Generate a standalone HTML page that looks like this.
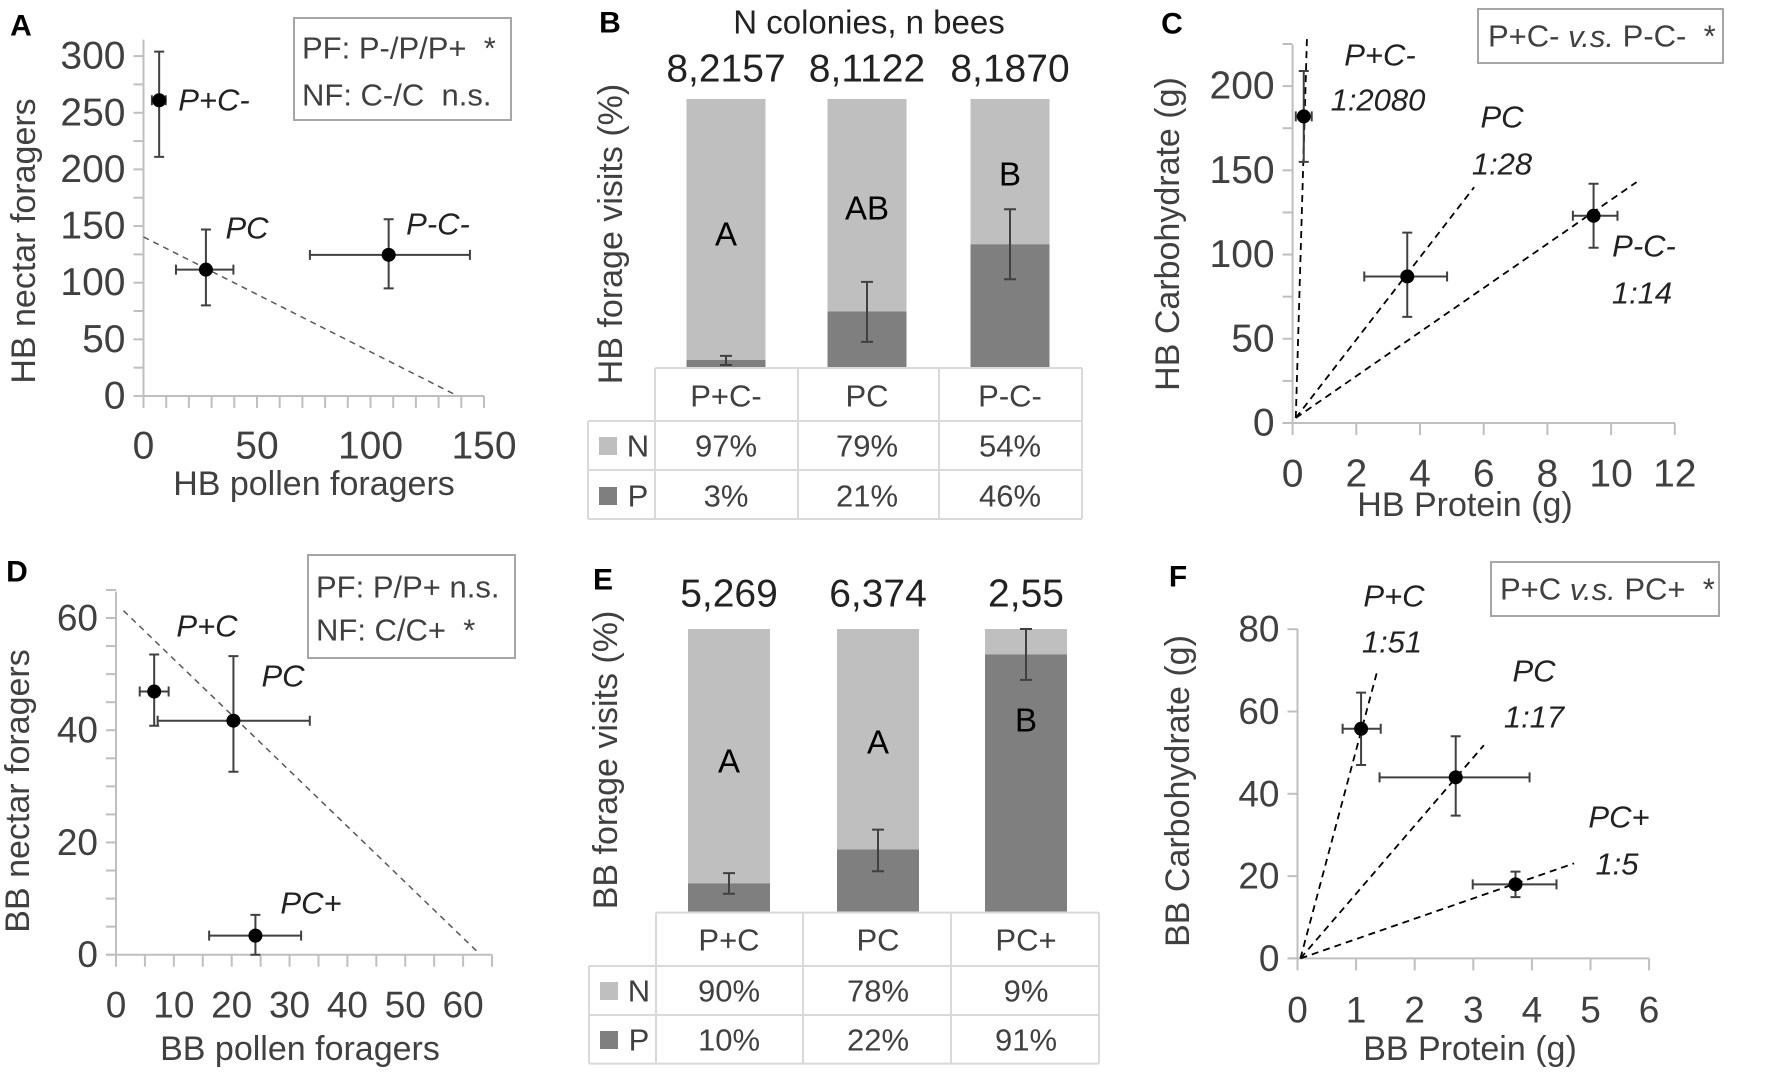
<!DOCTYPE html>
<html><head><meta charset="utf-8"><style>
body{margin:0;background:#fff}
svg{display:block;font-family:"Liberation Sans",sans-serif}
</style></head><body>
<svg id="fig" width="1772" height="1072" viewBox="0 0 1772 1072" xmlns="http://www.w3.org/2000/svg"></svg>
<script>
// ---- Panel A data (HB foragers) ----
const aNames=["P+C-","PC","P-C-"];
const aX=[6.9,27.5,108];
const aY=[261,111.5,124.6];
const aXlo=[3.7,14.3,73.3], aXhi=[9.8,39.6,143.8];
const aYlo=[211,80,95], aYhi=[304,147,156];
const aLine=[[0,140.4],[136.5,2]];
const aXTicks=[0,50,100,150], aYTicks=[0,50,100,150,200,250,300];
// ---- Panel C data (HB protein/carb) ----
const cNames=["P+C-","PC","P-C-"];
const cX=[0.35,3.6,9.45];
const cY=[182,87,123];
const cXlo=[0.1,2.25,8.8], cXhi=[0.6,4.85,10.2];
const cYlo=[155,63,104], cYhi=[209,113,142];
const cLines=[[[0.1,3],[0.45,228]],[[0.1,3],[5.7,140]],[[0.1,3],[10.8,143]]];
const cXTicks=[0,2,4,6,8,10,12], cYTicks=[0,50,100,150,200];
// ---- Panel D data (BB foragers) ----
const dNames=["P+C","PC","PC+"];
const dX=[6.6,20.3,24.1];
const dY=[46.9,41.7,3.4];
const dXlo=[4.1,7.2,16.1], dXhi=[9.1,33.5,32];
const dYlo=[40.8,32.6,0], dYhi=[53.5,53.2,7.1];
const dLine=[[1.3,61.3],[62.3,0.7]];
const dXTicks=[0,10,20,30,40,50,60], dYTicks=[0,20,40,60];
// ---- Panel F data (BB protein/carb) ----
const fNames=["P+C","PC","PC+"];
const fX=[1.085,2.7,3.72];
const fY=[55.8,44,18];
const fXlo=[0.77,1.4,2.99], fXhi=[1.42,3.96,4.42];
const fYlo=[47,34.7,14.9], fYhi=[64.6,54,21.1];
const fLines=[[[0.05,0],[1.37,70.3]],[[0.05,0],[3.18,51.8]],[[0.05,0],[4.72,23.1]]];
const fXTicks=[0,1,2,3,4,5,6], fYTicks=[0,20,40,60,80];
// ---- Panel B data (HB forage visits) ----
const bCats=["P+C-","PC","P-C-"];
const bCounts=["8,2157","8,1122","8,1870"];
const bN=[97,79,54];
const bP=[3,21,46];
const bErrLo=[1.1,9.7,33], bErrHi=[4.5,32,59];
const bLetters=["A","AB","B"];
// ---- Panel E data (BB forage visits) ----
const eCats=["P+C","PC","PC+"];
const eCounts=["5,269","6,374","2,55"];
const eN=[90,78,9];
const eP=[10,22,91];
const eErrLo=[6.3,14.3,82], eErrHi=[13.6,29,100];
const eLetters=["A","A","B"];

const svg=document.getElementById('fig');
const NS="http://www.w3.org/2000/svg";
const TXT="#404040";
function mk(tag,attrs,parent){const e=document.createElementNS(NS,tag);for(const k in attrs)e.setAttribute(k,attrs[k]);(parent||svg).appendChild(e);return e;}
function txt(s,x,y,size,opts,parent){opts=opts||{};const t=mk('text',{x:x,y:y,'font-size':size,fill:opts.fill||TXT,'text-anchor':opts.anchor||'middle','dominant-baseline':'central'},parent);if(opts.italic)t.setAttribute('font-style','italic');if(opts.bold)t.setAttribute('font-weight','bold');if(opts.rot)t.setAttribute('transform','rotate(-90 '+x+' '+y+')');t.textContent=s;return t;}

function scatter(p){
  const g=mk('g',{});
  
  
  const sx=v=>p.x0+v*p.xs, sy=v=>p.y0-v*p.ys;
  const ya=mk('line',{x1:p.x0,y1:p.y0,x2:p.x0,y2:p.yTop,stroke:'#bfbfbf','stroke-width':2},g);
  
  const xa=mk('line',{x1:p.x0-10,y1:p.y0,x2:sx(p.xMax),y2:p.y0,stroke:'#bfbfbf','stroke-width':2},g);
  
  for(let v=0;v<=p.yMinorMax+1e-9;v+=p.yMinor){mk('line',{x1:p.x0-10,y1:sy(v),x2:p.x0,y2:sy(v),stroke:'#bfbfbf','stroke-width':2},g);}
  for(let v=0;v<=p.xMax+1e-9;v+=p.xMinor){mk('line',{x1:sx(v),y1:p.y0,x2:sx(v),y2:p.y0+12,stroke:'#bfbfbf','stroke-width':2},g);}
  p.yTicks.forEach(v=>{const t=txt(String(v),p.x0-18,sy(v),p.fs,{anchor:'end'},g);});
  p.xTicks.forEach(v=>{const t=txt(String(v),sx(v),p.xLabY,p.fs,{},g);});
  const xt=txt(p.xTitle,p.xTitleX,p.xTitleY,34,{},g);
  const yt=txt(p.yTitle,p.yTitleX,p.yTitleY,34,{rot:true},g);
  p.lines.forEach(l=>{const ln=mk('line',{x1:sx(l[0][0]),y1:sy(l[0][1]),x2:sx(l[1][0]),y2:sy(l[1][1]),stroke:p.dashCol,'stroke-width':p.dashW,'stroke-dasharray':p.dash},g);
    });
  p.X.forEach((xv,i)=>{
    const col='#404040',c=5;
    const ex=mk('path',{d:'M'+sx(p.Xlo[i])+' '+sy(p.Y[i])+'H'+sx(p.Xhi[i])+'M'+sx(p.Xlo[i])+' '+(sy(p.Y[i])-c)+'v'+2*c+'M'+sx(p.Xhi[i])+' '+(sy(p.Y[i])-c)+'v'+2*c,stroke:col,'stroke-width':2,fill:'none'},g);
    
    const ey=mk('path',{d:'M'+sx(xv)+' '+sy(p.Ylo[i])+'V'+sy(p.Yhi[i])+'M'+(sx(xv)-c)+' '+sy(p.Ylo[i])+'h'+2*c+'M'+(sx(xv)-c)+' '+sy(p.Yhi[i])+'h'+2*c,stroke:col,'stroke-width':2,fill:'none'},g);
    
    const pt=mk('circle',{cx:sx(xv),cy:sy(p.Y[i]),r:7,fill:'#000'},g);
    
  });
  p.labels.forEach(l=>{const t=txt(l[0],l[1],l[2],31,{italic:true,fill:'#222'},g);});
  const bx=mk('rect',{x:p.box[0],y:p.box[1],width:p.box[2]-p.box[0],height:p.box[3]-p.box[1],fill:'#fff',stroke:'#a6a6a6','stroke-width':2},g);
  
  p.boxText.forEach(b=>{const t=mk('text',{x:b[1],y:b[2],'font-size':31,fill:TXT,'dominant-baseline':'central'},g);t.innerHTML=b[0];});
  const pl=txt(p.letter,p.letterPos[0],p.letterPos[1],30,{bold:true,fill:'#000'},g);
  
}

scatter({name:'panel-a',letter:'A',letterPos:[21,26],x0:143.5,y0:396,xs:(484-143.5)/150,ys:(396-56.1)/300,yTop:39.6,xMax:150,xMinor:10,yMinor:25,yMinorMax:300,
  xTicks:aXTicks,yTicks:aYTicks,fs:39,xLabY:446,xTitle:'HB pollen foragers',xTitleX:314,xTitleY:484,yTitle:'HB nectar foragers',yTitleX:24,yTitleY:241,
  names:aNames,X:aX,Y:aY,Xlo:aXlo,Xhi:aXhi,Ylo:aYlo,Yhi:aYhi,lines:[aLine],dashCol:'#595959',dashW:1.5,dash:'6,5',
  labels:[['P+C-',214,100],['PC',247,228],['P-C-',438,224]],box:[294,18,511,120],
  boxText:[['PF: P-/P/P+ &#160;*',302,48],['NF: C-/C &#160;n.s.',302,95]]});
scatter({name:'panel-c',letter:'C',letterPos:[1172,24],x0:1292.6,y0:423,xs:63.7/2,ys:(423-86.1)/200,yTop:44.8,xMax:12,xMinor:2,yMinor:25,yMinorMax:225,
  xTicks:cXTicks,yTicks:cYTicks,fs:39,xLabY:474,xTitle:'HB Protein (g)',xTitleX:1465,xTitleY:505,yTitle:'HB Carbohydrate (g)',yTitleX:1168,yTitleY:234,
  names:cNames,X:cX,Y:cY,Xlo:cXlo,Xhi:cXhi,Ylo:cYlo,Yhi:cYhi,lines:cLines,dashCol:'#000',dashW:1.8,dash:'7,5',
  labels:[['P+C-',1380,55],['1:2080',1378,100],['PC',1502,117],['1:28',1502,164],['P-C-',1644,246],['1:14',1642,293]],box:[1478,9,1723,63],
  boxText:[['P+C- <tspan font-style="italic">v.s.</tspan> P-C- &#160;*',1488,36]]});
scatter({name:'panel-d',letter:'D',letterPos:[17,572],x0:116,y0:954.7,xs:57.85/10,ys:(954.7-618)/60,yTop:591.6,xMax:65,xMinor:5,yMinor:5,yMinorMax:65,
  xTicks:dXTicks,yTicks:dYTicks,fs:37,xLabY:1005,xTitle:'BB pollen foragers',xTitleX:300,xTitleY:1049,yTitle:'BB nectar foragers',yTitleX:18,yTitleY:791,
  names:dNames,X:dX,Y:dY,Xlo:dXlo,Xhi:dXhi,Ylo:dYlo,Yhi:dYhi,lines:[dLine],dashCol:'#595959',dashW:1.5,dash:'6,5',
  labels:[['P+C',207,626],['PC',283,676],['PC+',311,903]],box:[308,555,515,658],
  boxText:[['PF: P/P+ n.s.',316,587],['NF: C/C+ &#160;*',316,630]]});
scatter({name:'panel-f',letter:'F',letterPos:[1178,577],x0:1297.5,y0:958.4,xs:58.6,ys:(958.4-629.2)/80,yTop:629,xMax:6,xMinor:1,yMinor:20,yMinorMax:80,
  xTicks:fXTicks,yTicks:fYTicks,fs:37,xLabY:1010,xTitle:'BB Protein (g)',xTitleX:1470,xTitleY:1049,yTitle:'BB Carbohydrate (g)',yTitleX:1178,yTitleY:791,
  names:fNames,X:fX,Y:fY,Xlo:fXlo,Xhi:fXhi,Ylo:fYlo,Yhi:fYhi,lines:fLines,dashCol:'#000',dashW:1.8,dash:'7,5',
  labels:[['P+C',1394,596],['1:51',1392,642],['PC',1534,671],['1:17',1534,717],['PC+',1619,817],['1:5',1617,864]],box:[1491,562,1719,616],
  boxText:[['P+C <tspan font-style="italic">v.s.</tspan> PC+ &#160;*',1500,589]]});

function bars(p){
  const g=mk('g',{});
  
  
  const sy=v=>p.yBot-v*(p.yBot-p.yTop)/100;
  p.cats.forEach((c,i)=>{
    const cx=p.centers[i],x=cx-p.bw/2;
    const n=mk('rect',{x:x,y:sy(100),width:p.bw,height:sy(p.P[i])-sy(100),fill:'#bfbfbf'},g);
    
    const pr=mk('rect',{x:x,y:sy(p.P[i]),width:p.bw,height:p.yBot-sy(p.P[i]),fill:'#7f7f7f'},g);
    
    const e=mk('path',{d:'M'+cx+' '+sy(p.lo[i])+'V'+sy(p.hi[i])+'M'+(cx-6)+' '+sy(p.lo[i])+'h12M'+(cx-6)+' '+sy(p.hi[i])+'h12',stroke:'#404040','stroke-width':2,fill:'none'},g);
    
    const l=txt(p.letters[i],cx,p.letterY[i],33,{fill:'#000'},g);
    const ct=txt(p.counts[i],cx,p.countY,39,{fill:'#222'},g);
    const h=txt(c,cx,p.rowY[0],31,{},g);
    const tn=txt(p.N[i]+'%',cx,p.rowY[1],31,{},g);
    const tp=txt(p.P[i]+'%',cx,p.rowY[2],31,{},g);
  });
  const tb=mk('g',{stroke:'#d9d9d9','stroke-width':2,fill:'none'},g);
  
  const r=p.rows,cl=p.cols;
  mk('path',{d:'M'+cl[0]+' '+r[0]+'H'+cl[3]+'M'+p.left+' '+r[1]+'H'+cl[3]+'M'+p.left+' '+r[2]+'H'+cl[3]+'M'+p.left+' '+r[3]+'H'+cl[3]+
    'M'+p.left+' '+r[1]+'V'+r[3]+'M'+cl[0]+' '+r[0]+'V'+r[3]+'M'+cl[1]+' '+r[0]+'V'+r[3]+'M'+cl[2]+' '+r[0]+'V'+r[3]+'M'+cl[3]+' '+r[0]+'V'+r[3]},tb);
  const ln=mk('rect',{x:p.left+11,y:p.rowY[1]-9,width:18,height:18,fill:'#bfbfbf'},g);
  
  const lp=mk('rect',{x:p.left+11,y:p.rowY[2]-9,width:18,height:18,fill:'#7f7f7f'},g);
  
  const tN=txt('N',p.left+50,p.rowY[1],31,{},g);
  const tP=txt('P',p.left+50,p.rowY[2],31,{},g);
  const yt=txt(p.yTitle,p.yTitleX,p.yTitleY,34,{rot:true},g);
  const pl=txt(p.letter,p.letterPos[0],p.letterPos[1],30,{bold:true,fill:'#000'},g);
  
}
bars({name:'panel-b',letter:'B',letterPos:[610,23],cats:bCats,counts:bCounts,N:bN,P:bP,lo:bErrLo,hi:bErrHi,letters:bLetters,
  centers:[726,867,1010],bw:79,yTop:99,yBot:368,letterY:[234,208,174],countY:69,rows:[368,421,470,519],cols:[655,798,939,1082],left:588,
  rowY:[396,446,496],yTitle:'HB forage visits (%)',yTitleX:611,yTitleY:234});
const nct=txt('N colonies, n bees',869,22,33,{fill:'#222'});


bars({name:'panel-e',letter:'E',letterPos:[603,580],cats:eCats,counts:eCounts,N:eN,P:eP,lo:eErrLo,hi:eErrHi,letters:eLetters,
  centers:[729,878,1026],bw:82,yTop:629,yBot:911.6,letterY:[761,742,720],countY:594,rows:[912.6,966,1015,1063.6],cols:[656,803,951,1099],left:589,
  rowY:[940,991,1040],yTitle:'BB forage visits (%)',yTitleX:606,yTitleY:760});
</script>
</body></html>
